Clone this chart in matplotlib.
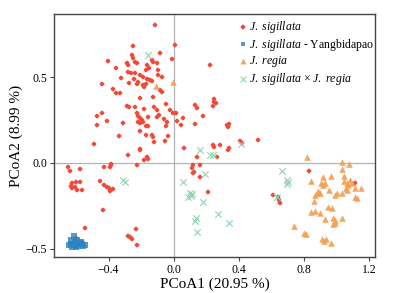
import matplotlib as mpl
mpl.use('AGG')
mpl.rcParams['font.family'] = 'Liberation Serif'
mpl.rcParams['mathtext.fontset'] = 'custom'
mpl.rcParams['mathtext.rm'] = 'Liberation Serif'
mpl.rcParams['mathtext.it'] = 'Liberation Serif:italic'
mpl.rcParams['axes.unicode_minus'] = True
import matplotlib.pyplot as plt

# J. sigillata
sig_x = [-0.117, -0.252, 0.006, -0.086, -0.258, -0.252, -0.240, -0.228, -0.406, -0.289,
         -0.283, -0.135, -0.129, -0.105, -0.012, -0.166, -0.154, -0.172, -0.357, -0.283,
         -0.265, -0.240, -0.098, -0.098, -0.074, -0.209, -0.191, -0.166, -0.148, -0.135,
         -0.326, -0.246, -0.222, -0.228, -0.277, -0.191, -0.172, -0.185, -0.443, -0.086,
         -0.074, -0.375, -0.357, -0.332, -0.209, -0.129, -0.049, -0.289, -0.277, -0.240,
         -0.185, -0.123, -0.105, -0.025, -0.006, 0.012, -0.443, -0.468, -0.228, -0.222,
         -0.209, -0.197, -0.222, -0.209, -0.191, -0.160, -0.105, -0.092, -0.062, -0.043,
         -0.049, -0.412, -0.474, -0.314, -0.172, -0.160, 0.018, 0.055, 0.129, 0.142,
         0.043, 0.129, -0.209, -0.172, -0.129, -0.135, -0.338, -0.037, -0.123, -0.055,
         -0.492, 0.062, -0.209, 0.222, 0.246, 0.258, 0.240, 0.246, 0.178, 0.326,
         0.332, 0.338, 0.240, 0.283, 0.246, 0.338, 0.406, 0.418, 0.517, -0.283,
         -0.209, -0.185, -0.166, -0.160, -0.228, -0.388, -0.394, -0.382, -0.425, -0.652,
         -0.634, -0.578, -0.455, -0.622, -0.597, -0.578, -0.628, -0.609, -0.622, -0.591,
         -0.560, -0.431, -0.412, -0.400, -0.394, -0.375, -0.437, -0.542, -0.234, -0.283,
         -0.271, -0.258, -0.228, -0.597, 0.831, 0.209, 0.609, 0.640, 0.646, 0.652,
         1.114, 0.160, 0.265, 0.332, 0.117, 0.111, 0.123, 0.117, 0.142, 0.160]
sig_y = [0.809, 0.686, 0.692, 0.645, 0.633, 0.616, 0.592, 0.586, 0.598, 0.586,
         0.575, 0.604, 0.592, 0.586, 0.610, 0.575, 0.557, 0.546, 0.557, 0.534,
         0.528, 0.528, 0.546, 0.516, 0.505, 0.516, 0.505, 0.493, 0.487, 0.481,
         0.499, 0.493, 0.475, 0.464, 0.470, 0.458, 0.464, 0.446, 0.464, 0.429,
         0.417, 0.435, 0.411, 0.411, 0.382, 0.388, 0.347, 0.335, 0.329, 0.329,
         0.317, 0.329, 0.312, 0.312, 0.294, 0.294, 0.294, 0.277, 0.294, 0.277,
         0.265, 0.253, 0.242, 0.236, 0.242, 0.270, 0.270, 0.282, 0.259, 0.242,
         0.218, 0.247, 0.224, 0.235, 0.218, 0.218, 0.247, 0.265, 0.341, 0.323,
         0.224, 0.230, 0.189, 0.165, 0.154, 0.165, 0.160, 0.160, 0.125, 0.130,
         0.113, 0.089, 0.084, 0.575, 0.376, 0.352, 0.335, 0.358, 0.277, 0.224,
         0.212, 0.230, 0.107, 0.107, 0.095, 0.089, 0.130, 0.119, 0.136, 0.049,
         0.078, 0.019, 0.037, 0.025, -0.010, -0.010, -0.022, -0.004, -0.022, -0.022,
         -0.045, -0.033, -0.104, -0.115, -0.109, -0.109, -0.133, -0.139, -0.144, -0.156,
         -0.156, -0.127, -0.139, -0.144, -0.162, -0.150, -0.273, -0.378, -0.384, -0.425,
         -0.431, -0.443, -0.478, -0.437, -0.045, -0.168, -0.185, -0.197, -0.215, -0.232,
         -0.115, -0.010, 0.037, 0.078, -0.010, -0.027, -0.051, -0.057, 0.037, -0.080]

# J. sigillata - Yangbidapao
yb_x = [-0.615, -0.628, -0.609, -0.591, -0.578, -0.560, -0.628, -0.603, -0.585, -0.554,
        -0.622, -0.597, -0.572, -0.640, -0.542]
yb_y = [-0.425, -0.449, -0.460, -0.449, -0.466, -0.472, -0.472, -0.478, -0.484, -0.484,
        -0.489, -0.489, -0.460, -0.478, -0.478]

# J. regia
reg_x = [0.818, 1.034, 1.077, 0.843, 0.917, 0.966, 1.034, 1.046, 1.046, 0.905,
         0.917, 0.929, 1.083, 1.095, 1.071, 1.065, 1.058, 1.065, 0.886, 0.880,
         0.868, 0.898, 0.954, 1.114, 1.151, 1.003, 0.991, 1.034, 1.114, 1.126,
         0.862, 0.948, 0.972, 0.868, 0.843, 0.898, 1.034, 0.978, 0.991, 0.978,
         0.991, 0.929, 0.738, 0.800, 0.812, 0.911, 0.923, 0.935, 0.966, -0.006,
         -0.111]
reg_y = [0.037, 0.008, -0.004, -0.104, -0.080, -0.074, -0.033, -0.074, -0.104, -0.115,
         -0.127, -0.115, -0.098, -0.115, -0.127, -0.115, -0.144, -0.156, -0.162, -0.174,
         -0.185, -0.174, -0.156, -0.144, -0.144, -0.174, -0.185, -0.174, -0.197, -0.203,
         -0.221, -0.256, -0.261, -0.279, -0.285, -0.291, -0.320, -0.320, -0.332, -0.355,
         -0.349, -0.326, -0.367, -0.408, -0.413, -0.443, -0.454, -0.443, -0.466, 0.475,
         0.452]

# J. sigillata x J. regia
hyb_x = [-0.160, -0.302, -0.314, 0.191, 0.055, 0.098, 0.111, 0.086, 0.105, 0.178,
         0.271, 0.135, 0.129, 0.142, 0.338, 0.665, 0.695, 0.702, 0.695, 0.634,
         0.222, 0.240, 0.412, 0.160]
hyb_y = [0.633, -0.109, -0.098, -0.063, -0.109, -0.173, -0.179, -0.197, -0.191, -0.226,
         -0.296, -0.320, -0.337, -0.402, -0.349, -0.045, -0.098, -0.109, -0.121, -0.197,
         0.049, 0.049, 0.113, 0.078]

fig = plt.figure(figsize=(3.97, 2.93), dpi=100)
ax = fig.add_axes([0.136, 0.123, 0.809, 0.829])

ax.axhline(0, color='#b4b4b4', lw=0.9, zorder=0)
ax.axvline(0, color='#b4b4b4', lw=0.9, zorder=0)

ax.scatter(sig_x, sig_y, marker='P', s=11, color='#f04a3a', linewidths=0.3,
           edgecolors='#f04a3a', label=r'$\it{J.\ sigillata}$')
ax.scatter(yb_x, yb_y, marker='s', s=15, color='#2a82c0', linewidths=0, alpha=0.8,
           label=r'$\it{J.\ sigillata}$ - Yangbidapao')
ax.scatter(reg_x, reg_y, marker='^', s=22, color='#f5a056', linewidths=0, alpha=0.95,
           label=r'$\it{J.\ regia}$')
ax.scatter(hyb_x, hyb_y, marker='x', s=22, color='#8ed6b2', linewidths=0.8,
           label=r'$\it{J.\ sigillata}$ $\times$ $\it{J.\ regia}$')

ax.set_xlim(-0.735, 1.237)
ax.set_ylim(-0.549, 0.870)
ax.set_xticks([-0.4, 0.0, 0.4, 0.8, 1.2])
ax.set_yticks([-0.5, 0.0, 0.5])
ax.tick_params(labelsize=8.5, length=3, width=0.8, color='#444444', pad=2)
for s in ax.spines.values():
    s.set_color('#444444')
    s.set_linewidth(1.0)

ax.set_xlabel('PCoA1 (20.95 %)', fontsize=11, labelpad=1)
ax.set_ylabel('PCoA2 (8.99 %)', fontsize=11, labelpad=2)

ax.legend(loc='upper right', bbox_to_anchor=(1.012, 1.0), frameon=False, fontsize=8.5,
          handletextpad=0.0, handlelength=1.0, borderaxespad=0.0, labelspacing=0.15,
          markerscale=0.9, borderpad=0.4)

fig.savefig('out.png', dpi=100)
